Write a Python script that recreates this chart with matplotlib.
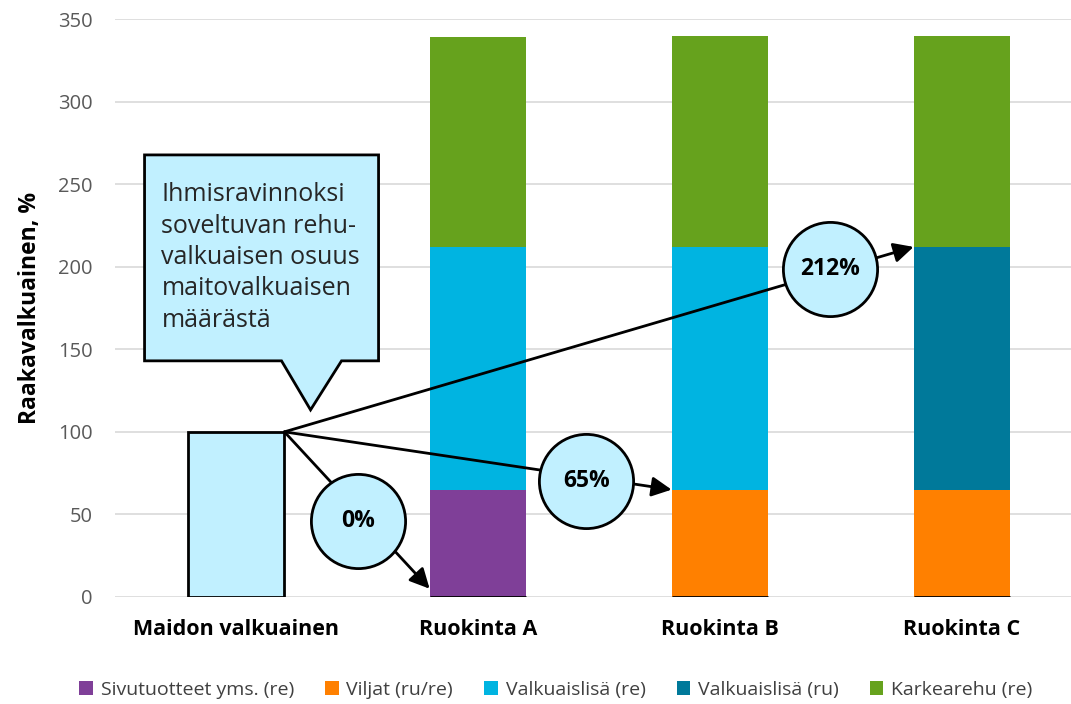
import matplotlib.pyplot as plt
import numpy as np
from matplotlib.patches import Polygon

plt.rcParams['font.family'] = ['Open Sans', 'DejaVu Sans']

################## data #############################
categories = ['Maidon valkuainen', 'Ruokinta A', 'Ruokinta B', 'Ruokinta C']
maito = [100, 0, 0, 0]
sivutuotteet = [0, 65, 0, 0]
viljat = [0, 0, 65, 65]
valk_re = [0, 147, 147, 0]
valk_ru = [0, 0, 0, 147]
karkearehu = [0, 127, 128, 128]

series_names = ['Sivutuotteet yms. (re)', 'Viljat (ru/re)', 'Valkuaislisä (re)',
                'Valkuaislisä (ru)', 'Karkearehu (re)']
series_colors = ['#7F3F98', '#FF8000', '#00B4E1', '#00799A', '#66A21D']

osuus_labels = ['0%', '65%', '212%']
callout_text = 'Ihmisravinnoksi\nsoveltuvan rehu-\nvalkuaisen osuus\nmaitovalkuaisen\nmäärästä'

################## plot #############################
fig = plt.figure(figsize=(10.71, 7.04), dpi=100)
ax = fig.add_axes([0.1074, 0.152, 0.9038, 0.821])

x = np.arange(len(categories))
w = 0.4

ax.bar(x, maito, w, color='#C1F0FF', edgecolor='black', linewidth=2, zorder=3)

bottom = np.zeros(len(categories))
for vals, name, col in zip([sivutuotteet, viljat, valk_re, valk_ru, karkearehu],
                           series_names, series_colors):
    ax.bar(x, vals, w, bottom=bottom, color=col, label=name, zorder=2)
    bottom += np.array(vals)

ax.set_xlim(-0.5, 3.5)
ax.set_ylim(0, 350)
ax.set_yticks(np.arange(0, 351, 50))
ax.grid(axis='y', color='#D9D9D9', linewidth=1.2, zorder=0)
ax.set_axisbelow(True)
for s in ax.spines.values():
    s.set_visible(False)
ax.tick_params(axis='both', length=0)
ax.tick_params(axis='y', labelsize=14.5, labelcolor='#595959', pad=16)
ax.set_xticks(x)
ax.set_xticklabels(categories, fontsize=15.5, fontweight='bold', color='black')
ax.tick_params(axis='x', pad=16)
ax.set_ylabel('Raakavalkuainen, %', fontsize=16.5, fontweight='bold', labelpad=12)

################## arrows with circles ##############
start = (w / 2, maito[0])
ends = [(1 - w / 2, 5), (2 - w / 2, viljat[2]), (3 - w / 2, viljat[3] + valk_ru[3])]
# circle centres (placed on the arrows)
centres = [(0.506, 46), (1.448, 70), (2.455, 198.5)]
for (ex, ey), lab, (cx, cy) in zip(ends, osuus_labels, centres):
    ax.annotate('', xy=(ex, ey), xytext=start,
                arrowprops=dict(arrowstyle='-|>', color='black', lw=2,
                                mutation_scale=30, shrinkA=0, shrinkB=0),
                zorder=4)
    ax.scatter([cx], [cy], s=4600, facecolor='#C1F0FF', edgecolor='black',
               linewidth=2, zorder=5)
    ax.text(cx, cy, lab, ha='center', va='center', fontsize=16.5,
            fontweight='bold', zorder=6)

################## callout ##########################
callout = Polygon([(-0.378, 267.7), (0.589, 267.7), (0.589, 143), (0.436, 143),
                   (0.308, 113.3), (0.188, 143), (-0.378, 143)],
                  closed=True, facecolor='#C1F0FF', edgecolor='black',
                  linewidth=2, zorder=4)
ax.add_patch(callout)
ax.text(-0.308, 251, callout_text, ha='left', va='top', fontsize=18,
        color='#262626', linespacing=1.33, zorder=6)

fig.legend(loc='center', bbox_to_anchor=(0.519, 0.02), ncol=5, frameon=False,
           fontsize=14, handlelength=0.7, handleheight=0.7, handletextpad=0.4,
           columnspacing=1.6, labelcolor='#404040')

plt.savefig('out.png', dpi=100)
